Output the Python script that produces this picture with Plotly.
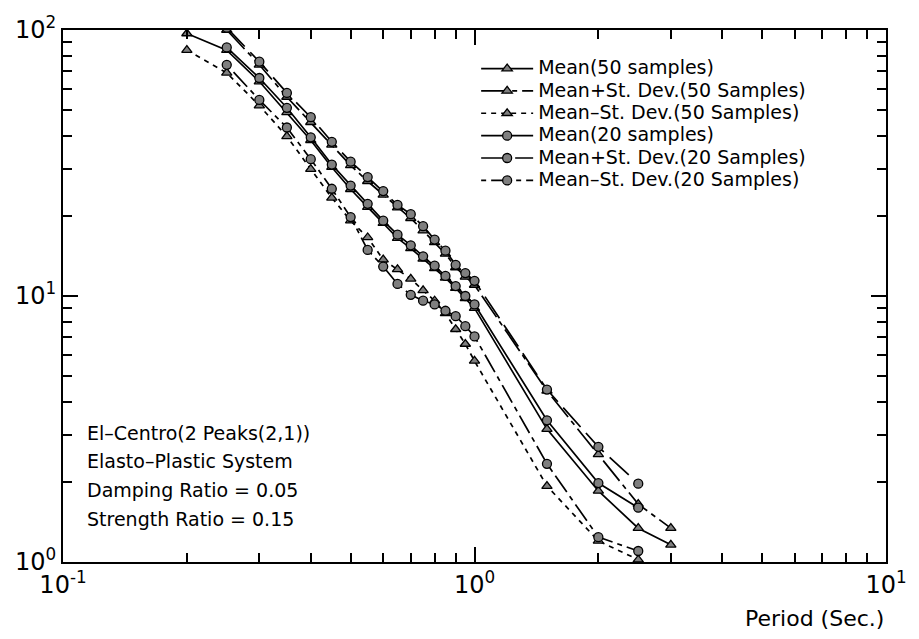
import plotly.graph_objects as go

# ---------------- data ----------------
period = [0.2, 0.25, 0.3, 0.35, 0.4, 0.45, 0.5, 0.55, 0.6, 0.65, 0.7,
          0.75, 0.8, 0.85, 0.9, 0.95, 1.0, 1.5, 2.0, 2.5, 3.0]

mean_50 = [97, 84, 64, 49, 38.5, 30.5, 25.2, 21.6, 18.8, 16.5, 15.1,
           13.8, 12.7, 11.7, 10.7, 9.8, 9.0, 3.16, 1.85, 1.34, 1.16]
mean_plus_50 = [None, 100, 74, 56, 45, 37, 31, 27, 24, 21.5, 19.6,
                17.6, 15.9, 14.4, 12.8, 11.8, 11.0, 4.4, 2.54, 1.65, 1.34]
mean_minus_50 = [84, 69, 52, 39.8, 30, 23.4, 19.2, 16.6, 13.7, 12.6, 11.6,
                 10.5, 9.6, 8.6, 7.5, 6.6, 5.7, 1.93, 1.2, 1.02, None]
mean_20 = [None, 86, 66, 51, 39.5, 31.2, 26, 22.2, 19.2, 17, 15.5,
           14.1, 13, 11.9, 10.9, 10, 9.3, 3.41, 1.98, 1.6, None]
mean_plus_20 = [None, 102, 76, 58, 47, 38, 32, 28, 24.8, 22, 20.3,
                18.3, 16.3, 14.8, 13.1, 12.2, 11.4, 4.45, 2.71, 1.97, None]
mean_minus_20 = [None, 74, 54.6, 43, 32.7, 25.3, 19.8, 14.9, 12.9, 11.1, 10.1,
                 9.6, 9.3, 8.8, 8.4, 7.7, 7.05, 2.34, 1.24, 1.1, None]

series_names = ["Mean(50 samples)", "Mean+St. Dev.(50 Samples)",
                "Mean\u2013St. Dev.(50 Samples)", "Mean(20 samples)",
                "Mean+St. Dev.(20 Samples)", "Mean\u2013St. Dev.(20 Samples)"]
series_values = [mean_50, mean_plus_50, mean_minus_50,
                 mean_20, mean_plus_20, mean_minus_20]

x_tick_vals = [0.1, 1, 10]
x_tick_text = ["10<sup>-1</sup>", "10<sup>0</sup>", "10<sup>1</sup>"]
y_tick_vals = [1, 10, 100]
y_tick_text = ["10<sup>0</sup>", "10<sup>1</sup>", "10<sup>2</sup>"]

info_lines = ["El\u2013Centro(2 Peaks(2,1))", "Elasto\u2013Plastic System",
              "Damping Ratio = 0.05", "Strength Ratio = 0.15"]
x_title = "Period (Sec.)"

# ---------------- styles ----------------
symbols = ["triangle-up", "triangle-up", "triangle-up", "circle", "circle", "circle"]
dashes = ["solid", "26px,5px,5px,5px", "5px,5px", "solid", "26px,8px", "5px,5px,20px,5px"]
FONT = "DejaVu Sans"

fig = go.Figure()
for name, vals, sym, dash in zip(series_names, series_values, symbols, dashes):
    fig.add_trace(go.Scatter(
        x=period, y=vals, mode="lines+markers",
        name=f'<span style="font-size:19px">{name}</span>',
        connectgaps=False,
        line=dict(color="black", width=1.7, dash=dash),
        marker=dict(symbol=sym, size=9, color="#7f7f7f",
                    line=dict(color="black", width=1.3)),
    ))

minor_vals = [m * 10.0 ** e for e in (-1, 0) for m in range(2, 10)]
minor_vals_y = [m * 10.0 ** e for e in (0, 1) for m in range(2, 10)]

axis_common = dict(
    type="log", showgrid=False, zeroline=False,
    showline=True, linecolor="black", linewidth=2, mirror="allticks",
    ticks="inside", ticklen=15, tickwidth=1.6, tickcolor="black",
    tickfont=dict(family=FONT, size=24, color="black"),
)

fig.update_xaxes(
    range=[-1, 1], tickmode="array", tickvals=x_tick_vals, ticktext=x_tick_text,
    minor=dict(tickmode="array", tickvals=minor_vals, ticks="inside",
               ticklen=9, tickwidth=1.6, tickcolor="black", showgrid=False),
    **axis_common)
fig.update_yaxes(
    range=[0, 2], tickmode="array", tickvals=y_tick_vals, ticktext=y_tick_text,
    minor=dict(tickmode="array", tickvals=minor_vals_y, ticks="inside",
               ticklen=9, tickwidth=1.6, tickcolor="black", showgrid=False),
    **axis_common)

annotations = []
info_y = [0.243, 0.189, 0.135, 0.081]
for txt, yy in zip(info_lines, info_y):
    annotations.append(dict(text=txt, xref="paper", yref="paper", x=0.027, y=yy,
                            xanchor="left", yanchor="middle", showarrow=False,
                            font=dict(family=FONT, size=19, color="black")))
annotations.append(dict(text=x_title, xref="paper", yref="paper", x=1.0, y=-0.107,
                        xanchor="right", yanchor="middle", showarrow=False,
                        font=dict(family=FONT, size=22, color="black")))

fig.update_layout(
    width=919, height=639,
    margin=dict(l=63, r=31, t=22, b=77),
    paper_bgcolor="white", plot_bgcolor="white",
    font=dict(family=FONT, color="black"),
    showlegend=True,
    legend=dict(x=0.502, y=0.958, xanchor="left", yanchor="top",
                bgcolor="rgba(0,0,0,0)", borderwidth=0,
                font=dict(family=FONT, size=14.9, color="black"),
                itemwidth=52, tracegroupgap=0),
    annotations=annotations,
)

fig.write_html("out.html")
